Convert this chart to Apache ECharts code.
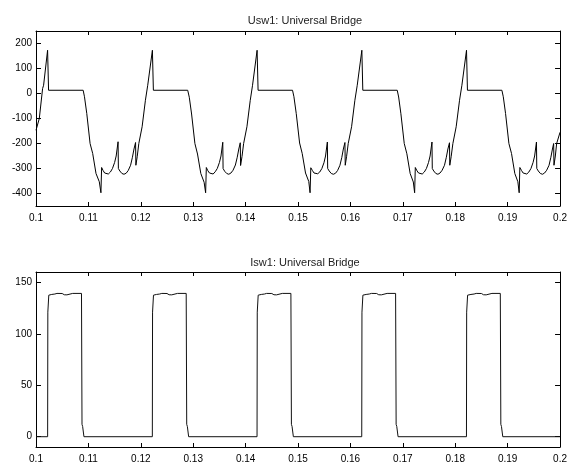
<!DOCTYPE html>
<html>
<head>
<meta charset="utf-8">
<script src="https://cdn.jsdelivr.net/npm/echarts@6/dist/echarts.min.js"></script>
<style>
html,body{margin:0;padding:0;background:#fff;}
#chart{width:570px;height:464px;}
</style>
</head>
<body>
<div id="chart"></div>
<script>
// ---- data ----
const titles = ["Usw1: Universal Bridge", "Isw1: Universal Bridge"];
const xTicks = [0.1, 0.11, 0.12, 0.13, 0.14, 0.15, 0.16, 0.17, 0.18, 0.19, 0.2];
const uswTicks = [-400, -300, -200, -100, 0, 100, 200];
const iswTicks = [0, 50, 100, 150];

// Usw1 voltage, [time s, value V]
const uswStart = [[0.1000,-147],[0.10063,-100],[0.10126,20],[0.10145,33]];
const uswP1 = [[0.10221,173],[0.10240,13],[0.10900,13],[0.10925,-13],[0.10969,-80],[0.11032,-200],[0.11082,-240],[0.11145,-320],[0.11208,-353],[0.11239,-397],[0.11252,-296],[0.11280,-308],[0.11310,-318],[0.11346,-323],[0.11380,-322],[0.11420,-314],[0.11459,-300],[0.11500,-276],[0.11530,-250],[0.11566,-193],[0.11572,-300],[0.11600,-310],[0.11640,-320],[0.11679,-323],[0.11720,-319],[0.11760,-308],[0.11805,-287],[0.11840,-255],[0.11870,-222],[0.11900,-196],[0.11906,-287],[0.11931,-253],[0.11962,-200],[0.12025,-133],[0.12088,-27],[0.12132,33]];
const uswP2 = [[0.12221,173],[0.12240,13],[0.12895,13],[0.12925,-15],[0.12969,-82],[0.13032,-200],[0.13082,-242],[0.13145,-320],[0.13208,-355],[0.13237,-397],[0.13250,-296],[0.13280,-309],[0.13310,-318],[0.13346,-323],[0.13380,-322],[0.13420,-313],[0.13459,-300],[0.13500,-276],[0.13530,-250],[0.13564,-195],[0.13570,-300],[0.13600,-311],[0.13640,-320],[0.13679,-323],[0.13720,-318],[0.13760,-307],[0.13805,-286],[0.13840,-255],[0.13870,-222],[0.13898,-197],[0.13904,-288],[0.13931,-252],[0.13962,-200],[0.14025,-133],[0.14088,-28],[0.14132,33]];
const uswP3 = [[0.14219,173],[0.14238,13],[0.14895,13],[0.14922,-13],[0.14966,-80],[0.15030,-198],[0.15080,-240],[0.15143,-318],[0.15205,-352],[0.15230,-397],[0.15244,-297],[0.15275,-308],[0.15305,-318],[0.15340,-322],[0.15375,-321],[0.15415,-314],[0.15455,-300],[0.15495,-277],[0.15525,-250],[0.15560,-194],[0.15566,-300],[0.15595,-310],[0.15635,-320],[0.15675,-323],[0.15715,-319],[0.15755,-308],[0.15800,-287],[0.15835,-256],[0.15865,-222],[0.15895,-196],[0.15901,-287],[0.15926,-253],[0.15958,-200],[0.16022,-133],[0.16085,-27],[0.16130,33]];
const uswP4 = [[0.16218,173],[0.16236,13],[0.16893,13],[0.16920,-14],[0.16963,-81],[0.17027,-200],[0.17077,-241],[0.17140,-320],[0.17200,-354],[0.17225,-397],[0.17238,-296],[0.17270,-309],[0.17300,-318],[0.17336,-323],[0.17370,-322],[0.17410,-314],[0.17450,-300],[0.17490,-276],[0.17520,-250],[0.17556,-194],[0.17562,-300],[0.17590,-310],[0.17630,-320],[0.17670,-323],[0.17710,-318],[0.17750,-307],[0.17795,-287],[0.17830,-255],[0.17860,-222],[0.17890,-197],[0.17896,-287],[0.17922,-253],[0.17955,-200],[0.18018,-133],[0.18082,-27],[0.18127,33]];
const uswP5 = [[0.18215,173],[0.18233,13],[0.18890,13],[0.18917,-13],[0.18960,-80],[0.19024,-200],[0.19074,-240],[0.19137,-320],[0.19195,-353],[0.19220,-397],[0.19233,-296],[0.19265,-308],[0.19295,-318],[0.19330,-323],[0.19365,-322],[0.19405,-314],[0.19445,-300],[0.19485,-276],[0.19515,-250],[0.19550,-194],[0.19556,-300],[0.19585,-310],[0.19625,-320],[0.19665,-323],[0.19705,-318],[0.19745,-307],[0.19790,-287],[0.19825,-255],[0.19855,-222],[0.19878,-200],[0.19884,-287],[0.19910,-250],[0.19935,-200],[0.19970,-198],[0.2000,-155]];

// Isw1 current, [time s, value A]
const iswP1 = [[0.1000,0],[0.10222,0],[0.10226,121],[0.10238,122],[0.10244,137.5],[0.10300,138.2],[0.10360,138.6],[0.10400,139.2],[0.10500,139.1],[0.10540,137.9],[0.10590,137.8],[0.10620,139],[0.10700,139.2],[0.10868,139.2],[0.10878,12],[0.10890,10],[0.10915,0]];
const iswP2 = [[0.12220,0],[0.12224,121],[0.12236,122],[0.12242,137.5],[0.12300,138.2],[0.12360,138.6],[0.12400,139.2],[0.12500,139.1],[0.12540,137.9],[0.12590,137.8],[0.12620,139],[0.12700,139.2],[0.12866,139.2],[0.12876,12],[0.12888,10],[0.12913,0]];
const iswP3 = [[0.14218,0],[0.14222,121],[0.14234,122],[0.14240,137.5],[0.14300,138.2],[0.14360,138.6],[0.14400,139.2],[0.14500,139.1],[0.14540,137.9],[0.14590,137.8],[0.14620,139],[0.14700,139.2],[0.14864,139.2],[0.14874,12],[0.14886,10],[0.14911,0]];
const iswP4 = [[0.16216,0],[0.16220,121],[0.16232,122],[0.16238,137.5],[0.16300,138.2],[0.16360,138.6],[0.16400,139.2],[0.16500,139.1],[0.16540,137.9],[0.16590,137.8],[0.16620,139],[0.16700,139.2],[0.16862,139.2],[0.16872,12],[0.16884,10],[0.16909,0]];
const iswP5 = [[0.18214,0],[0.18218,121],[0.18230,122],[0.18236,137.5],[0.18300,138.2],[0.18360,138.6],[0.18400,139.2],[0.18500,139.1],[0.18540,137.9],[0.18590,137.8],[0.18620,139],[0.18700,139.2],[0.18860,139.2],[0.18870,12],[0.18882,10],[0.18907,0],[0.2000,0]];

const uswData = [].concat(uswStart, uswP1, uswP2, uswP3, uswP4, uswP5);
const iswData = [].concat(iswP1, iswP2, iswP3, iswP4, iswP5);

// ---- chart ----
const FONT = "'Liberation Sans', Arial, sans-serif";
const chart = echarts.init(document.getElementById('chart'), null, {renderer: 'canvas'});
const grids = [
  {left: 36, top: 31, width: 529, height: 175},
  {left: 36, top: 272, width: 529, height: 176}
];
const lineAx = {show: true, lineStyle: {color: '#000', width: 1}};
function xAx(gi, pos, labels) {
  return {
    type: 'value', gridIndex: gi, position: pos, min: 0.1, max: 0.2,
    axisLine: Object.assign({onZero: false}, lineAx),
    axisTick: {show: true, inside: true, length: 4, lineStyle: {color: '#000'}, customValues: xTicks},
    axisLabel: {show: labels, customValues: xTicks, color: '#000', fontSize: 10, fontFamily: FONT, margin: 7,
      formatter: v => String(+v.toFixed(2))},
    splitLine: {show: false}
  };
}
function yAx(gi, pos, labels, mn, mx, ticks) {
  return {
    type: 'value', gridIndex: gi, position: pos, min: mn, max: mx,
    axisLine: Object.assign({onZero: false}, lineAx),
    axisTick: {show: true, inside: true, length: 5, lineStyle: {color: '#000'}, customValues: ticks},
    axisLabel: {show: labels, customValues: ticks, color: '#000', fontSize: 10, fontFamily: FONT, margin: 4},
    splitLine: {show: false}
  };
}
chart.setOption({
  animation: false,
  backgroundColor: '#fff',
  title: [
    {text: titles[0], left: 300, top: 10, textAlign: 'center', textStyle: {fontSize: 11, fontWeight: 'normal', color: '#222', fontFamily: FONT}},
    {text: titles[1], left: 300, top: 252, textAlign: 'center', textStyle: {fontSize: 11, fontWeight: 'normal', color: '#222', fontFamily: FONT}}
  ],
  grid: grids,
  xAxis: [xAx(0, 'bottom', true), xAx(0, 'top', false), xAx(1, 'bottom', true), xAx(1, 'top', false)],
  yAxis: [yAx(0, 'left', true, -450, 250, uswTicks), yAx(0, 'right', false, -450, 250, uswTicks),
          yAx(1, 'left', true, -10, 160, iswTicks), yAx(1, 'right', false, -10, 160, iswTicks)],
  series: [
    {type: 'line', xAxisIndex: 0, yAxisIndex: 0, data: uswData, showSymbol: false, silent: true,
      lineStyle: {color: '#000', width: 1}},
    {type: 'line', xAxisIndex: 2, yAxisIndex: 2, data: iswData, showSymbol: false, silent: true,
      lineStyle: {color: '#111', width: 1}}
  ]
});
</script>
</body>
</html>
